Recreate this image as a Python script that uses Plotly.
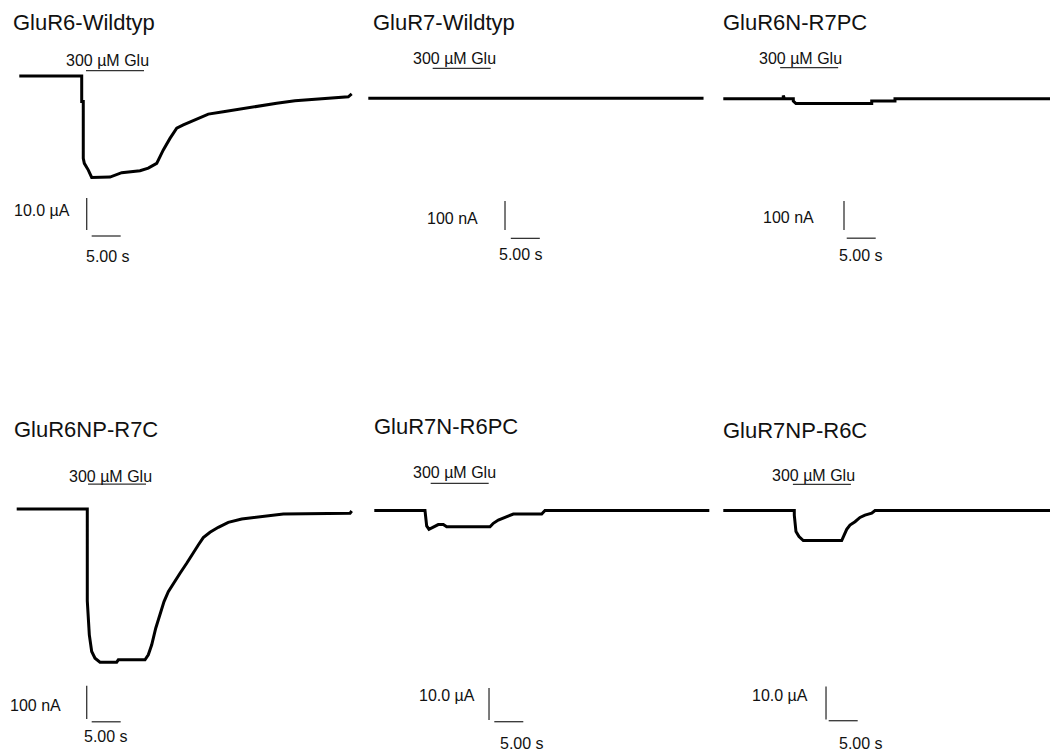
import plotly.graph_objects as go

# ---------------------------------------------------------------------------
# Recorded currents (time in s from trace start, current relative to baseline)
# ---------------------------------------------------------------------------
names = ["GluR6-Wildtyp", "GluR7-Wildtyp", "GluR6N-R7PC",
         "GluR6NP-R7C", "GluR7N-R6PC", "GluR7NP-R6C"]

# GluR6 wild type, µA
t_r6wt = [0, 10.76, 10.76, 11.03, 11.03, 11.21, 11.90, 12.48, 15.64, 17.66,
          20.81, 22.24, 23.69, 24.83, 25.98, 27.14, 28.28, 30.59, 32.59,
          35.17, 38.05, 40.64, 44.38, 47.53, 52.71, 56.72, 57.31]
i_r6wt = [0, 0, -8.0, -8.0, -25.7, -27.3, -29.4, -31.7, -31.6, -30.2,
          -29.6, -28.8, -27.3, -23.1, -19.5, -16.3, -15.3, -13.5, -11.9,
          -11.2, -10.3, -9.6, -8.5, -7.7, -7.0, -6.5, -5.6]

# GluR7 wild type, nA
t_r7wt = [0, 10.0, 20.0, 30.0, 40.0, 50.0, 57.8]
i_r7wt = [0, 0, 0, 0, 0, 0, 0]

# GluR6N-R7PC, nA
t_r6n_r7pc = [0, 10.34, 10.34, 10.55, 12.07, 12.07, 12.53, 25.59, 25.59,
              29.60, 29.60, 56.33]
i_r6n_r7pc = [0, 0, 11, 0, 0, -7.9, -16.6, -16.6, -7.9, -7.9, 0, 0]

# GluR6NP-R7C, nA
t_r6np_r7c = [0, 12.17, 12.17, 12.52, 12.93, 13.50, 14.36, 17.24, 17.52,
              22.12, 22.69, 23.28, 23.97, 24.71, 25.40, 26.14, 27.00, 28.16,
              29.31, 30.17, 31.31, 32.17, 33.33, 34.76, 36.48, 38.79, 42.52,
              45.97, 57.47, 57.76]
i_r6np_r7c = [0, 0, -276, -378, -428, -448, -460, -460, -453, -453, -438,
              -408, -358, -313, -278, -248, -223, -193, -163, -138, -108,
              -86, -70, -55, -40, -30, -23, -15, -13, -6]

# GluR7N-R6PC, µA
t_r7n_r6pc = [0, 8.74, 9.03, 9.43, 10.17, 11.03, 11.90, 12.48, 19.95, 20.52,
              21.38, 22.24, 23.40, 23.97, 28.86, 29.43, 57.76]
i_r7n_r6pc = [0, 0, -4.8, -5.9, -5.2, -4.4, -4.4, -5.1, -5.1, -4.0, -3.0,
              -2.4, -1.6, -1.1, -1.1, 0, 0]

# GluR7NP-R6C, µA
t_r7np_r6c = [0, 12.24, 12.24, 12.53, 13.05, 13.79, 20.41, 20.69, 21.28,
              21.84, 22.71, 23.57, 24.43, 25.59, 26.16, 56.33]
i_r7np_r6c = [0, 0, -1.4, -6.4, -7.9, -9.1, -9.1, -7.9, -5.7, -4.4, -3.4,
              -2.1, -1.4, -0.8, 0, 0]

times = [t_r6wt, t_r7wt, t_r6n_r7pc, t_r6np_r7c, t_r7n_r6pc, t_r7np_r6c]
currents = [i_r6wt, i_r7wt, i_r6n_r7pc, i_r6np_r7c, i_r7n_r6pc, i_r7np_r6c]

# calibration of each recording: amplitude bar value and its label
cal_amp = [10, 100, 100, 100, 10, 10]
cal_amp_labels = ["10.0 µA", "100 nA", "100 nA", "100 nA", "10.0 µA", "10.0 µA"]
cal_time = 5.0
cal_time_label = "5.00 s"
glu_duration = 10.0
glu_label = "300 µM Glu"

# ---------------------------------------------------------------------------
# Page geometry (pixels) and per-panel placement
# ---------------------------------------------------------------------------
W, H = 1050, 751
PX_PER_S = 5.8

# panel box [left, right, top, bottom], trace origin (x0, baseline y), px per unit
geom = [
    dict(box=(0, 360, 0, 375), x0=19.3, yb=76.0, k=3.2),
    dict(box=(360, 716, 0, 375), x0=368.3, yb=98.3, k=0.29),
    dict(box=(716, 1050, 0, 375), x0=723.3, yb=98.7, k=0.29),
    dict(box=(0, 360, 375, 751), x0=16.7, yb=509.0, k=0.333),
    dict(box=(360, 716, 375, 751), x0=374.3, yb=510.5, k=3.2),
    dict(box=(716, 1050, 375, 751), x0=723.3, yb=510.5, k=3.3),
]

# title anchor (left x px, centre y px)
title_pos = [(11, 22), (371, 22), (721, 22), (12, 429), (372, 426), (721, 430)]

# annotation placement in data units of each panel
glu_start = [11.5, 11.1, 9.8, 12.3, 9.72, 12.0]
glu_bar_y = [1.66, 103, 107, 75, 8.5, 7.9]
glu_text = [(15.2, 4.7), (14.8, 138), (13.3, 140), (16.2, 99), (13.8, 11.8), (15.6, 10.5)]
vbar = [(11.62, -48.1), (23.57, -454), (20.81, -453), (12.07, -631),
        (19.78, -65.5), (17.71, -63.3)]          # x, bottom of amplitude bar
hbar = [(12.48, -50.0), (24.57, -483), (21.28, -481), (12.93, -639),
        (20.69, -66.0), (18.17, -63.7)]          # left x, y of time bar
amp_text = [(9.03, -41.9), (19.26, -414), (15.98, -411), (8.03, -589),
            (17.66, -57.7), (14.95, -56.2)]      # right edge x, centre y
time_text = [(15.34, -56.5), (26.41, -540), (23.66, -539), (15.36, -684),
             (25.41, -72.8), (23.66, -70.5)]     # centre x, centre y

FONT = "Arial, Liberation Sans, sans-serif"
TXT = "#111111"
BAR = "#333333"

fig = go.Figure()
layout_axes = {}
shapes = []
annotations = []

for p in range(6):
    g = geom[p]
    L, R, T, B = g["box"]
    sfx = "" if p == 0 else str(p + 1)
    xa, ya = "x" + sfx, "y" + sfx

    layout_axes["xaxis" + sfx] = dict(
        domain=[L / W, R / W],
        range=[(L - g["x0"]) / PX_PER_S, (R - g["x0"]) / PX_PER_S],
        visible=False, fixedrange=True, anchor=ya,
    )
    layout_axes["yaxis" + sfx] = dict(
        domain=[1 - B / H, 1 - T / H],
        range=[-(B - g["yb"]) / g["k"], (g["yb"] - T) / g["k"]],
        visible=False, fixedrange=True, anchor=xa,
    )

    fig.add_trace(go.Scatter(
        x=times[p], y=currents[p], mode="lines",
        line=dict(color="black", width=3),
        xaxis=xa, yaxis=ya, hoverinfo="skip",
    ))

    # glutamate application bar
    shapes.append(dict(type="line", xref=xa, yref=ya,
                       x0=glu_start[p], x1=glu_start[p] + glu_duration,
                       y0=glu_bar_y[p], y1=glu_bar_y[p],
                       line=dict(color=BAR, width=1.2)))
    # amplitude calibration bar
    vx, vy = vbar[p]
    shapes.append(dict(type="line", xref=xa, yref=ya,
                       x0=vx, x1=vx, y0=vy, y1=vy + cal_amp[p],
                       line=dict(color=BAR, width=1.3)))
    # time calibration bar
    hx, hy = hbar[p]
    shapes.append(dict(type="line", xref=xa, yref=ya,
                       x0=hx, x1=hx + cal_time, y0=hy, y1=hy,
                       line=dict(color=BAR, width=1.3)))

    annotations.append(dict(
        text=names[p], xref="paper", yref="paper",
        x=title_pos[p][0] / W, y=1 - title_pos[p][1] / H,
        xanchor="left", yanchor="middle", showarrow=False,
        font=dict(family=FONT, size=22, color=TXT),
    ))
    annotations.append(dict(
        text=glu_label, xref=xa, yref=ya, x=glu_text[p][0], y=glu_text[p][1],
        xanchor="center", yanchor="middle", showarrow=False,
        font=dict(family=FONT, size=16, color=TXT),
    ))
    annotations.append(dict(
        text=cal_amp_labels[p], xref=xa, yref=ya,
        x=amp_text[p][0], y=amp_text[p][1],
        xanchor="right", yanchor="middle", showarrow=False,
        font=dict(family=FONT, size=16, color=TXT),
    ))
    annotations.append(dict(
        text=cal_time_label, xref=xa, yref=ya,
        x=time_text[p][0], y=time_text[p][1],
        xanchor="center", yanchor="middle", showarrow=False,
        font=dict(family=FONT, size=16, color=TXT),
    ))

fig.update_layout(
    width=W, height=H,
    margin=dict(l=0, r=0, t=0, b=0),
    paper_bgcolor="white", plot_bgcolor="rgba(0,0,0,0)",
    showlegend=False,
    shapes=shapes, annotations=annotations,
    **layout_axes,
)

fig.write_html("out.html", config={"displayModeBar": False})
